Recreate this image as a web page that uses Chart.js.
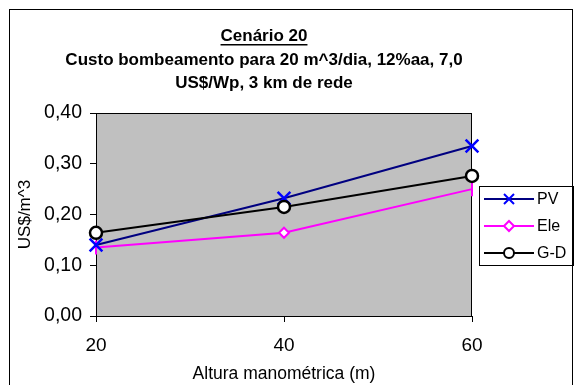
<!DOCTYPE html>
<html>
<head>
<meta charset="utf-8">
<script src="https://cdn.jsdelivr.net/npm/chart.js"></script>
<style>
  body { margin: 0; background: #fff; }
  #chart { width: 575px; height: 385px; }
</style>
</head>
<body>
<div id="chart"><canvas id="myChart" width="575" height="385"></canvas></div>
<script>
  // data
  const alturas = ['20', '40', '60'];
  const pv = [0.14, 0.232, 0.335];
  const ele = [0.135, 0.164, 0.25];
  const gd = [0.164, 0.215, 0.276];
  const titulo = ['Cenário 20', 'Custo bombeamento para 20 m^3/dia, 12%aa, 7,0', 'US$/Wp, 3 km de rede'];
  const nomes = ['PV', 'Ele', 'G-D'];

  const FONT = 'Arial, "Liberation Sans", sans-serif';

  // grey plot area, frame, title, legend
  const extras = {
    id: 'extras',
    beforeDraw(chart) {
      const ctx = chart.ctx, a = chart.chartArea;
      ctx.save();
      ctx.fillStyle = '#fff';
      ctx.fillRect(0, 0, chart.width, chart.height);
      ctx.fillStyle = '#c0c0c0';
      ctx.fillRect(a.left, a.top, a.right - a.left, a.bottom - a.top);
      ctx.restore();
    },
    beforeDatasetsDraw(chart) {
      const ctx = chart.ctx, a = chart.chartArea;
      ctx.save();
      ctx.strokeStyle = '#000';
      ctx.lineWidth = 1;
      ctx.strokeRect(Math.round(a.left) + 0.5, Math.round(a.top) + 0.5,
        Math.round(a.right - a.left) - 1, Math.round(a.bottom - a.top));
      ctx.restore();
    },
    afterDraw(chart) {
      const ctx = chart.ctx;
      ctx.save();
      // outer frame
      ctx.strokeStyle = '#000';
      ctx.lineWidth = 1;
      ctx.strokeRect(9.5, 9.5, 563, 400);

      // title
      ctx.fillStyle = '#000';
      ctx.textAlign = 'center';
      ctx.textBaseline = 'middle';
      ctx.font = 'bold 17px ' + FONT;
      const cx = 264;
      const ys = [36, 60, 83];
      titulo.forEach((t, i) => ctx.fillText(t, cx, ys[i]));
      const w = ctx.measureText(titulo[0]).width;
      ctx.fillRect(cx - w / 2, 44, w, 1.5);

      // legend
      ctx.strokeStyle = '#000';
      ctx.strokeRect(479.5, 186.5, 94, 79);
      ctx.font = '16px ' + FONT;
      ctx.textAlign = 'left';
      const rows = [199, 226, 253];
      chart.data.datasets.forEach((ds, i) => {
        const y = rows[i];
        ctx.strokeStyle = ds.borderColor;
        ctx.lineWidth = 2;
        ctx.beginPath();
        ctx.moveTo(484, y);
        ctx.lineTo(534, y);
        ctx.stroke();
        ctx.fillStyle = ds.legendFill;
        ctx.strokeStyle = ds.legendMarker;
        ctx.lineWidth = 2;
        ctx.beginPath();
        if (i === 0) {
          ctx.moveTo(504, y - 5); ctx.lineTo(514, y + 5);
          ctx.moveTo(514, y - 5); ctx.lineTo(504, y + 5);
          ctx.stroke();
        } else if (i === 1) {
          ctx.moveTo(509, y - 5); ctx.lineTo(514, y); ctx.lineTo(509, y + 5); ctx.lineTo(504, y);
          ctx.closePath(); ctx.fill(); ctx.stroke();
        } else {
          ctx.arc(509, y, 5, 0, Math.PI * 2);
          ctx.fill(); ctx.stroke();
        }
        ctx.fillStyle = '#000';
        ctx.fillText(nomes[i], 537, y + 1);
      });
      ctx.restore();
    }
  };

  const data = {
    labels: alturas,
    datasets: [{
      label: nomes[0],
      data: pv,
      borderColor: '#000080',
      borderWidth: 2,
      pointStyle: 'crossRot',
      pointRadius: 9,
      pointBorderColor: '#0000ff',
      pointBorderWidth: 2.5,
      legendMarker: '#0000ff',
      legendFill: '#fff',
      order: 2,
      clip: false
    }, {
      label: nomes[1],
      data: ele,
      borderColor: '#ff00ff',
      borderWidth: 2,
      pointStyle: ['line', 'rectRot', 'line'],
      rotation: [90, 0, 90],
      pointRadius: [7, 5, 7],
      pointBackgroundColor: '#fff',
      pointBorderColor: '#ff00ff',
      pointBorderWidth: 2,
      legendMarker: '#ff00ff',
      legendFill: '#fff',
      order: 3,
      clip: false
    }, {
      label: nomes[2],
      data: gd,
      borderColor: '#000',
      borderWidth: 2,
      pointStyle: 'circle',
      pointRadius: 6,
      pointBackgroundColor: '#fff',
      pointBorderColor: '#000',
      pointBorderWidth: 2.5,
      legendMarker: '#000',
      legendFill: '#fff',
      order: 1,
      clip: false
    }]
  };

  const config = {
    type: 'line',
    data: data,
    options: {
      responsive: false,
      animation: false,
      layout: { padding: { top: 113, right: 103, left: 0, bottom: 0 } },
      plugins: { legend: { display: false }, tooltip: { enabled: false }, title: { display: false } },
      elements: { line: { tension: 0 } },
      scales: {
        x: {
          offset: false,
          afterFit: s => { s.height = 69; },
          grid: { offset: false, drawOnChartArea: false, drawTicks: true, tickLength: 6, color: '#000' },
          border: { display: true, color: '#000' },
          ticks: { color: '#000', font: { family: FONT, size: 19 }, padding: 12, maxRotation: 0 },
          title: { display: true, text: 'Altura manométrica (m)', color: '#000',
            font: { family: FONT, size: 17.5 }, padding: { top: 0, bottom: 0 } }
        },
        y: {
          min: 0,
          max: 0.4,
          afterFit: s => { s.width = 96; },
          grid: { drawOnChartArea: false, drawTicks: true, tickLength: 6, color: '#000' },
          border: { display: true, color: '#000' },
          ticks: { stepSize: 0.1, color: '#000', font: { family: FONT, size: 19.5 }, padding: 8,
            callback: v => v.toFixed(2).replace('.', ',') },
          title: { display: true, text: 'US$/m^3', color: '#000',
            font: { family: FONT, size: 17 }, padding: { top: 15, bottom: 0 } }
        }
      }
    },
    plugins: [extras]
  };

  const myChart = new Chart(document.getElementById('myChart'), config);
</script>
</body>
</html>
